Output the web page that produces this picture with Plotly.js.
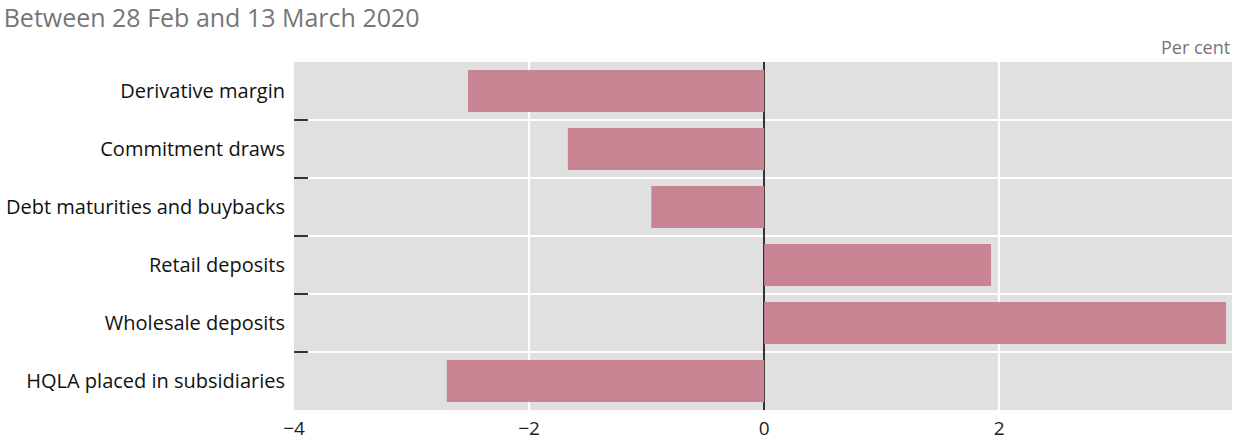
<!DOCTYPE html>
<html>
<head>
<meta charset="utf-8">
<script src="https://cdn.plot.ly/plotly-3.0.1.min.js"></script>
<style>html,body{margin:0;padding:0;background:#fff;}#chart{width:1235px;height:441px;}</style>
</head>
<body>
<div id="chart"></div>
<script>
const categories = ["Derivative margin", "Commitment draws", "Debt maturities and buybacks", "Retail deposits", "Wholesale deposits", "HQLA placed in subsidiaries"];
const values = [-2.52, -1.67, -0.96, 1.93, 3.93, -2.70];
const xTickVals = [-4, -2, 0, 2];
const xTickText = ["\u22124", "\u22122", "0", "2"];
const titleText = "Between 28 Feb and 13 March 2020";
const unitText = "Per cent";

const font = "Open Sans, Noto Sans, sans-serif";
const trace = {
  type: "bar", orientation: "h",
  y: categories, x: values,
  marker: {color: "#c98494"},
  hoverinfo: "x+y"
};
const layout = {
  width: 1235, height: 441,
  margin: {l: 294, r: 3, t: 62, b: 31, pad: 0},
  paper_bgcolor: "#ffffff", plot_bgcolor: "#e0e0e0",
  bargap: 0.28,
  showlegend: false,
  font: {family: font, color: "#222", size: 16},
  title: {text: titleText, x: 0.003, xanchor: "left", xref: "container", y: 0.958, yanchor: "middle", yref: "container",
          font: {family: font, size: 25, color: "#767676"}},
  xaxis: {range: [-4, 3.98], tickvals: xTickVals, ticktext: xTickText, showgrid: true, gridcolor: "#ffffff", gridwidth: 2,
          zeroline: true, zerolinecolor: "#333333", zerolinewidth: 1.5, ticks: "", showline: false,
          ticklabelstandoff: 5, tickfont: {size: 19, color: "#222"}, fixedrange: true},
  yaxis: {categoryorder: "array", categoryarray: categories, autorange: "reversed", tickson: "boundaries",
          ticks: "inside", ticklen: 14, tickwidth: 2, tickcolor: "#333", showgrid: true, gridcolor: "#ffffff", gridwidth: 2,
          zeroline: false, showline: false, ticklabelstandoff: 8, tickfont: {size: 20, color: "#111"}},
  annotations: [{text: unitText, xref: "paper", yref: "paper", x: 1, y: 1, xanchor: "right", yanchor: "bottom", yshift: 1,
                 showarrow: false, font: {family: font, size: 18, color: "#767676"}}]
};
Plotly.newPlot("chart", [trace], layout, {displayModeBar: false, staticPlot: true});
</script>
</body>
</html>
